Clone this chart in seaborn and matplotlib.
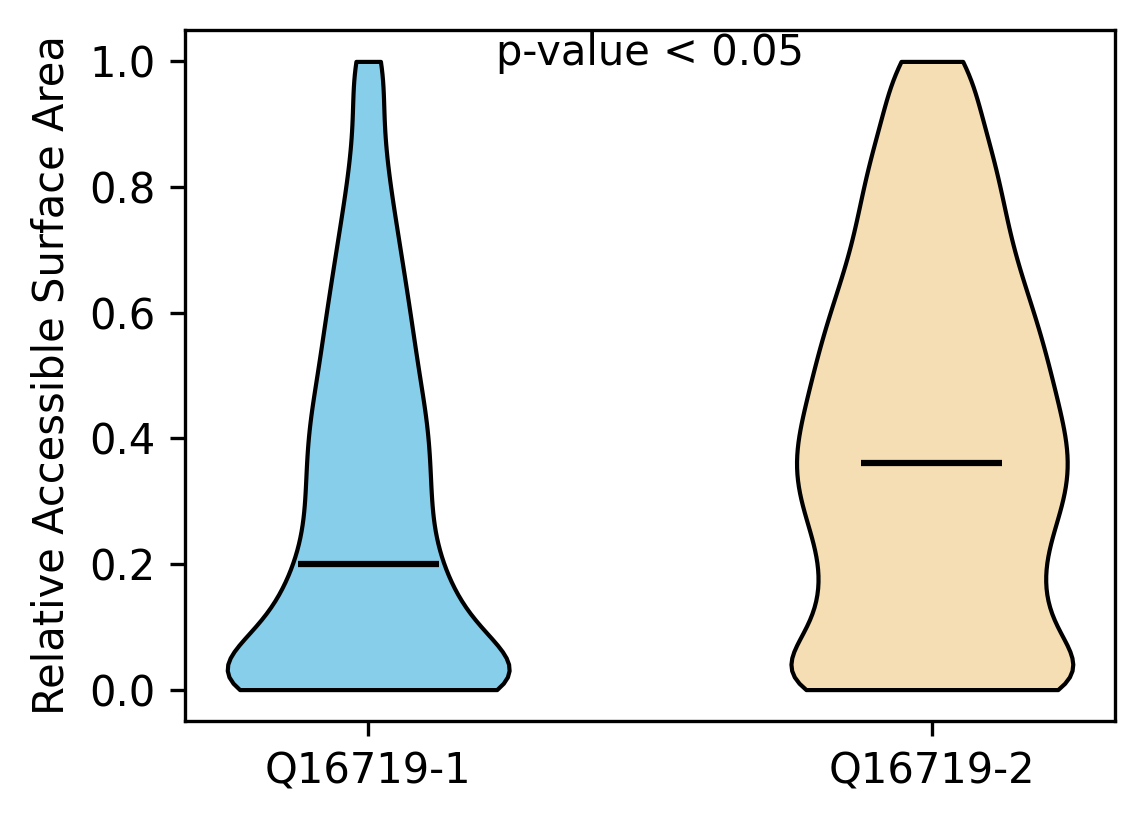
import numpy as np
import pandas as pd
import seaborn as sns
import matplotlib.pyplot as plt

rsa_levels = [0.00, 0.04, 0.08, 0.12, 0.16, 0.20, 0.24, 0.28, 0.32, 0.36, 0.40, 0.44, 0.48,
              0.52, 0.56, 0.60, 0.64, 0.68, 0.72, 0.76, 0.80, 0.84, 0.88, 0.92, 0.96, 1.00]
q1_counts = [455, 205, 160, 145, 125, 110, 92, 96, 93, 93, 92, 89, 77,
             74, 68, 63, 57, 51, 45, 39, 33, 27, 24, 21, 19, 40]
q2_counts = [300, 115, 125, 114, 106, 108, 117, 128, 138, 141, 136, 127, 122,
             116, 110, 102, 93, 84, 77, 73, 69, 63, 56, 47, 37, 56]
isoforms = ["Q16719-1", "Q16719-2"]
colors = ["skyblue", "wheat"]
p_text = "p-value < 0.05"

q1 = np.repeat(rsa_levels, q1_counts)
q2 = np.repeat(rsa_levels, q2_counts)
df = pd.DataFrame({
    "isoform": [isoforms[0]] * len(q1) + [isoforms[1]] * len(q2),
    "rsa": np.concatenate([q1, q2]),
})

fig, ax = plt.subplots(figsize=(1144 / 300, 824 / 300), dpi=300)
fig.subplots_adjust(left=0.1617, right=0.9747, bottom=0.125, top=0.9636)

sns.violinplot(data=df, x="isoform", y="rsa", hue="isoform", palette=colors,
               cut=0, inner=None, density_norm="width", width=0.5, saturation=1,
               linewidth=1, linecolor="black", legend=False, ax=ax)

# median bars like matplotlib's showmedians
for i, vals in enumerate([q1, q2]):
    ax.hlines(np.median(vals), i - 0.125, i + 0.125, color="black", linewidth=1.5)

ax.text(0.5, 0.995, p_text, ha="center", va="baseline", fontsize=10)

ax.set_xlim(-0.325, 1.325)
ax.set_ylim(-0.05, 1.05)
ax.set_xlabel("")
ax.set_ylabel("Relative Accessible Surface Area", fontsize=10)
ax.tick_params(labelsize=10)

fig.savefig("out.png", dpi=300)
